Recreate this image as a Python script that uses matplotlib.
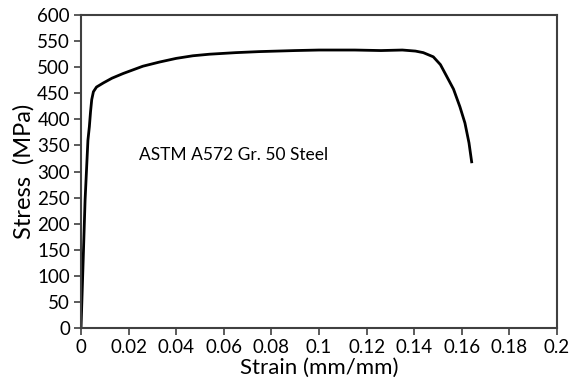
# Stress-strain curve, ASTM A572 Gr. 50 steel
import numpy as np
from matplotlib import pyplot as plt

plt.rcParams['font.family'] = ['Lato', 'DejaVu Sans']

strain = [0.0, 0.0008, 0.0017, 0.0029, 0.0035, 0.004, 0.0045, 0.0052,
          0.0065, 0.0094, 0.013, 0.0177, 0.026, 0.033, 0.040, 0.047, 0.054,
          0.065, 0.075, 0.09, 0.10, 0.115, 0.126, 0.135, 0.1405, 0.1438,
          0.148, 0.151, 0.1537, 0.1565, 0.1592, 0.1613, 0.163, 0.1642]
stress = [0, 115, 245, 360, 386, 415, 438, 453, 462, 470, 479, 488, 502,
          510, 517, 522, 525, 528, 530, 532, 533, 533, 532, 533, 531, 528,
          520, 505, 482, 458, 424, 393, 355, 316]

xticks = [0, 0.02, 0.04, 0.06, 0.08, 0.1, 0.12, 0.14, 0.16, 0.18, 0.2]
xticklabels = ["0", "0.02", "0.04", "0.06", "0.08", "0.1", "0.12", "0.14",
               "0.16", "0.18", "0.2"]
yticks = list(range(0, 601, 50))

fig = plt.figure(figsize=(5.69, 3.87), dpi=100)
ax = fig.add_axes([0.1424, 0.1525, 0.8366, 0.8085])

ax.plot(strain, stress, color="black", lw=2, solid_capstyle="butt",
        solid_joinstyle="round")

ax.set_xlim(0, 0.2)
ax.set_ylim(0, 600)
ax.set_xticks(xticks)
ax.set_xticklabels(xticklabels)
ax.set_yticks(yticks)
ax.tick_params(direction="out", length=5, width=1.2, labelsize=13.5,
               colors="#404040", labelcolor="black", pad=3)
for s in ax.spines.values():
    s.set_color("#404040")
    s.set_linewidth(1.5)

ax.set_xlabel("Strain (mm/mm)", fontsize=16, labelpad=1)
ax.set_ylabel("Stress  (MPa)", fontsize=17, labelpad=2)
ax.text(0.0245, 331, "ASTM A572 Gr. 50 Steel", fontsize=12.5, va="center")

plt.savefig("out.png", dpi=100)
